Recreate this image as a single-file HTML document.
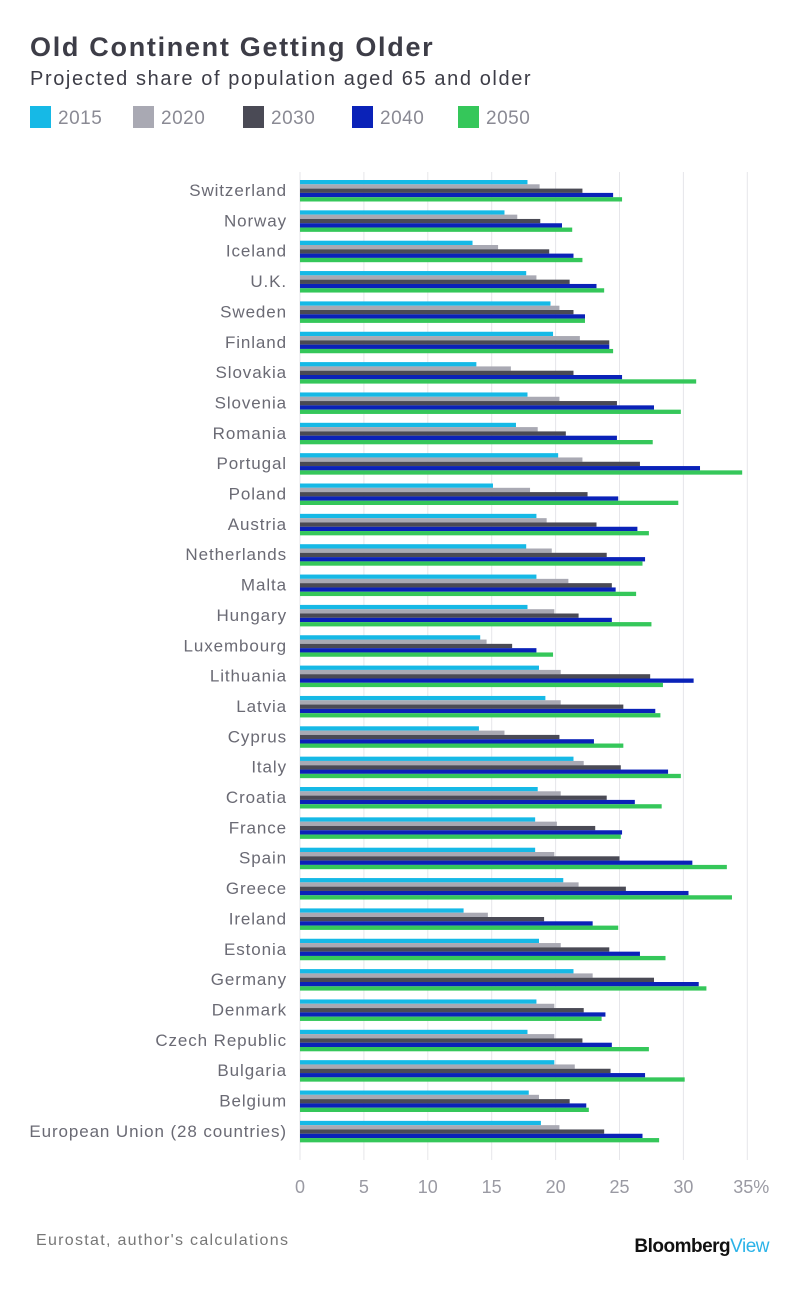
<!DOCTYPE html>
<html><head><meta charset="utf-8"><style>
body{margin:0;background:#fff;font-family:"Liberation Sans",sans-serif;}
#wrap{position:relative;width:805px;height:1293px;overflow:hidden;}
</style></head><body>
<div id="wrap">
<svg id="chart" width="805" height="1293">
<text x="30" y="56" font-size="27" font-weight="bold" fill="#3d3d47" letter-spacing="1.7">Old Continent Getting Older</text>
<text x="30" y="85" font-size="20" fill="#3d3d47" letter-spacing="1.6">Projected share of population aged 65 and older</text>
<g id="legend"></g>
<g id="grid"></g>
<g id="bars"></g>
<g id="labels"></g>
<g id="ticks"></g>
<text x="36" y="1245" font-size="16" fill="#777" letter-spacing="1.3">Eurostat, author's calculations</text>
<text x="769" y="1252" font-size="19" font-weight="bold" text-anchor="end" fill="#111" letter-spacing="-0.5">Bloomberg<tspan fill="#2bb3e8" font-weight="normal">View</tspan></text>
</svg>
</div>
<script>
const countries=["Switzerland","Norway","Iceland","U.K.","Sweden","Finland","Slovakia","Slovenia","Romania","Portugal","Poland","Austria","Netherlands","Malta","Hungary","Luxembourg","Lithuania","Latvia","Cyprus","Italy","Croatia","France","Spain","Greece","Ireland","Estonia","Germany","Denmark","Czech Republic","Bulgaria","Belgium","European Union (28 countries)"];
const years=["2015","2020","2030","2040","2050"];
const v2015=[17.8,16.0,13.5,17.7,19.6,19.8,13.8,17.8,16.9,20.2,15.1,18.5,17.7,18.5,17.8,14.1,18.7,19.2,14.0,21.4,18.6,18.4,18.4,20.6,12.8,18.7,21.4,18.5,17.8,19.9,17.9,18.85];
const v2020=[18.75,17.0,15.5,18.5,20.3,21.9,16.5,20.3,18.6,22.1,18.0,19.3,19.7,21.0,19.9,14.6,20.4,20.4,16.0,22.2,20.4,20.1,19.9,21.8,14.7,20.4,22.9,19.9,19.9,21.5,18.7,20.3];
const v2030=[22.1,18.8,19.5,21.1,21.4,24.2,21.4,24.8,20.8,26.6,22.5,23.2,24.0,24.4,21.8,16.6,27.4,25.3,20.3,25.1,24.0,23.1,25.0,25.5,19.1,24.2,27.7,22.2,22.1,24.3,21.1,23.8];
const v2040=[24.5,20.5,21.4,23.2,22.3,24.2,25.2,27.7,24.8,31.3,24.9,26.4,27.0,24.7,24.4,18.5,30.8,27.8,23.0,28.8,26.2,25.2,30.7,30.4,22.9,26.6,31.2,23.9,24.4,27.0,22.4,26.8];
const v2050=[25.2,21.3,22.1,23.8,22.3,24.5,31.0,29.8,27.6,34.6,29.6,27.3,26.8,26.3,27.5,19.8,28.4,28.2,25.3,29.8,28.3,25.1,33.4,33.8,24.9,28.6,31.8,23.6,27.3,30.1,22.6,28.1];
const tickVals=[0,5,10,15,20,25,30,35];
const tickLabels=["0","5","10","15","20","25","30","35%"];
const series=[v2015,v2020,v2030,v2040,v2050];
const colors=["#16b9e6","#a9a9b3","#4a4a55","#0a22b8","#35c75a"];
const NS="http://www.w3.org/2000/svg";
const x=v=>300+v*12.78;
const rowTop=i=>180+i*30.35;
const barH=4.3;
function mk(tag,attrs,parent){const e=document.createElementNS(NS,tag);for(const k in attrs)e.setAttribute(k,attrs[k]);document.getElementById(parent).appendChild(e);return e;}
const legX=[30,133,243,352,458];
years.forEach((y,i)=>{
 const r=mk("rect",{x:legX[i],y:106,width:21,height:22,fill:colors[i]},"legend");
 
 
 const t=mk("text",{x:legX[i]+28,y:124,"font-size":19,fill:"#8a8a94","letter-spacing":0.5},"legend");
 t.textContent=y;
 
 
});
tickVals.forEach((v,i)=>{
 const l=mk("line",{x1:x(v),x2:x(v),y1:172,y2:1160,stroke:"#e6e6ea","stroke-width":1},"grid");
 
 
 const t=mk("text",{x:x(v)+(i==7?4:0),y:1193,"font-size":18,fill:"#9a9aa3","text-anchor":"middle"},"ticks");
 t.textContent=tickLabels[i];
 
 
});
countries.forEach((c,i)=>{
 const t=mk("text",{x:287,y:rowTop(i)+16,"font-size":17,fill:"#6a6a74","text-anchor":"end","letter-spacing":0.9},"labels");
 t.textContent=c;
 
 
 series.forEach((s,j)=>{
  const r=mk("rect",{x:x(0),y:rowTop(i)+j*barH,width:x(s[i])-x(0),height:barH,fill:colors[j]},"bars");
  
  
 });
});
</script>
</body></html>
